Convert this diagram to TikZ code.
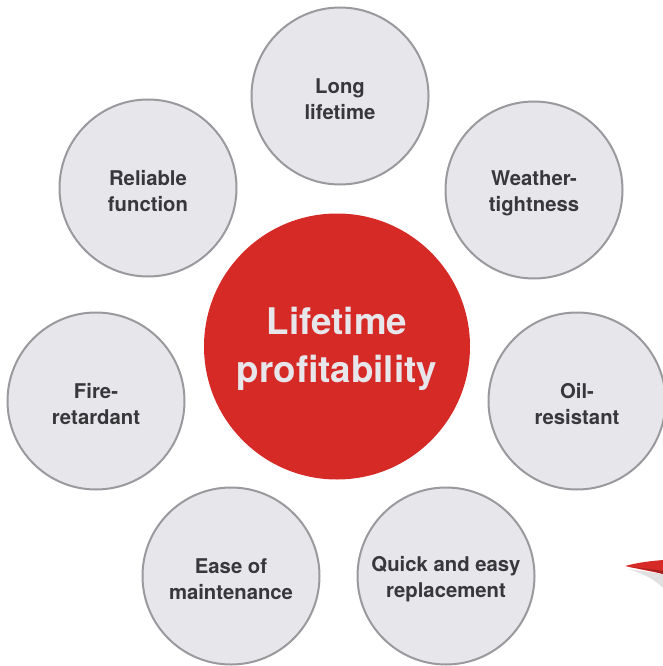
\documentclass[tikz,border=0pt]{standalone}
\usepackage{fontspec}
\setmainfont{TeX Gyre Heros}
\definecolor{brandred}{HTML}{D62A27}
\definecolor{bubblefill}{HTML}{E7E6EB}
\definecolor{bubbleline}{HTML}{9A9A9E}
\definecolor{bubbletext}{HTML}{38383A}
\begin{document}
\begin{tikzpicture}[x=1pt,y=-1pt,
  bubble/.style={circle, draw=bubbleline, line width=2pt, fill=bubblefill,
    minimum size=177pt, inner sep=0pt},
  bubbletxt/.style={align=center, text=bubbletext, inner sep=0pt,
    font=\fontsize{20.3}{26}\selectfont\bfseries},
  hub/.style={circle, fill=brandred, minimum size=266pt, inner sep=0pt},
  hubtxt/.style={align=center, text=bubblefill, inner sep=0pt,
    font=\fontsize{36.7}{48}\selectfont\bfseries}]
\useasboundingbox (0,0) rectangle (663,666);
\node[hub] (hub) at (337,346.5) {};
\node[hubtxt] (hubt) at ([yshift=-2pt]hub.center) {Lifetime\\profitability};
\node[bubble] (long) at (340,96) {};
\node[bubbletxt] (longt) at ([yshift=-3pt]long.center) {Long\\lifetime};
\node[bubble] (reliable) at (148,188) {};
\node[bubbletxt] (reliablet) at ([yshift=-3pt]reliable.center) {Reliable\\function};
\node[bubble] (weather) at (534,190) {};
\node[bubbletxt] (weathert) at ([yshift=-3pt]weather.center) {Weather-\\tightness};
\node[bubble] (fire) at (96,401) {};
\node[bubbletxt] (firet) at ([yshift=-3pt]fire.center) {Fire-\\retardant};
\node[bubble] (oil) at (577,401) {};
\node[bubbletxt] (oilt) at ([yshift=-3pt]oil.center) {Oil-\\resistant};
\node[bubble] (ease) at (231,576) {};
\node[bubbletxt] (easet) at ([yshift=-3pt]ease.center) {Ease of\\maintenance};
\node[bubble] (quick) at (446,576) {};
\node[bubbletxt] (quickt) at ([yshift=-3pt]quick.center) {Quick and easy\\replacement};
% partial red arrow at the right edge
\fill[black!12] (628,569) .. controls (645,574) and (655,580) .. (663,588) -- (663,574) -- cycle;
\fill[brandred] (625,566) .. controls (640,562) and (652,561) .. (663,560) -- (663,574) .. controls (650,571) and (638,569) .. (625,566) -- cycle;
\fill[brandred!75!black] (630,567) .. controls (645,569) and (655,571) .. (663,574) -- (663,571) .. controls (650,569) and (640,568) .. (630,567) -- cycle;
\end{tikzpicture}
\end{document}
